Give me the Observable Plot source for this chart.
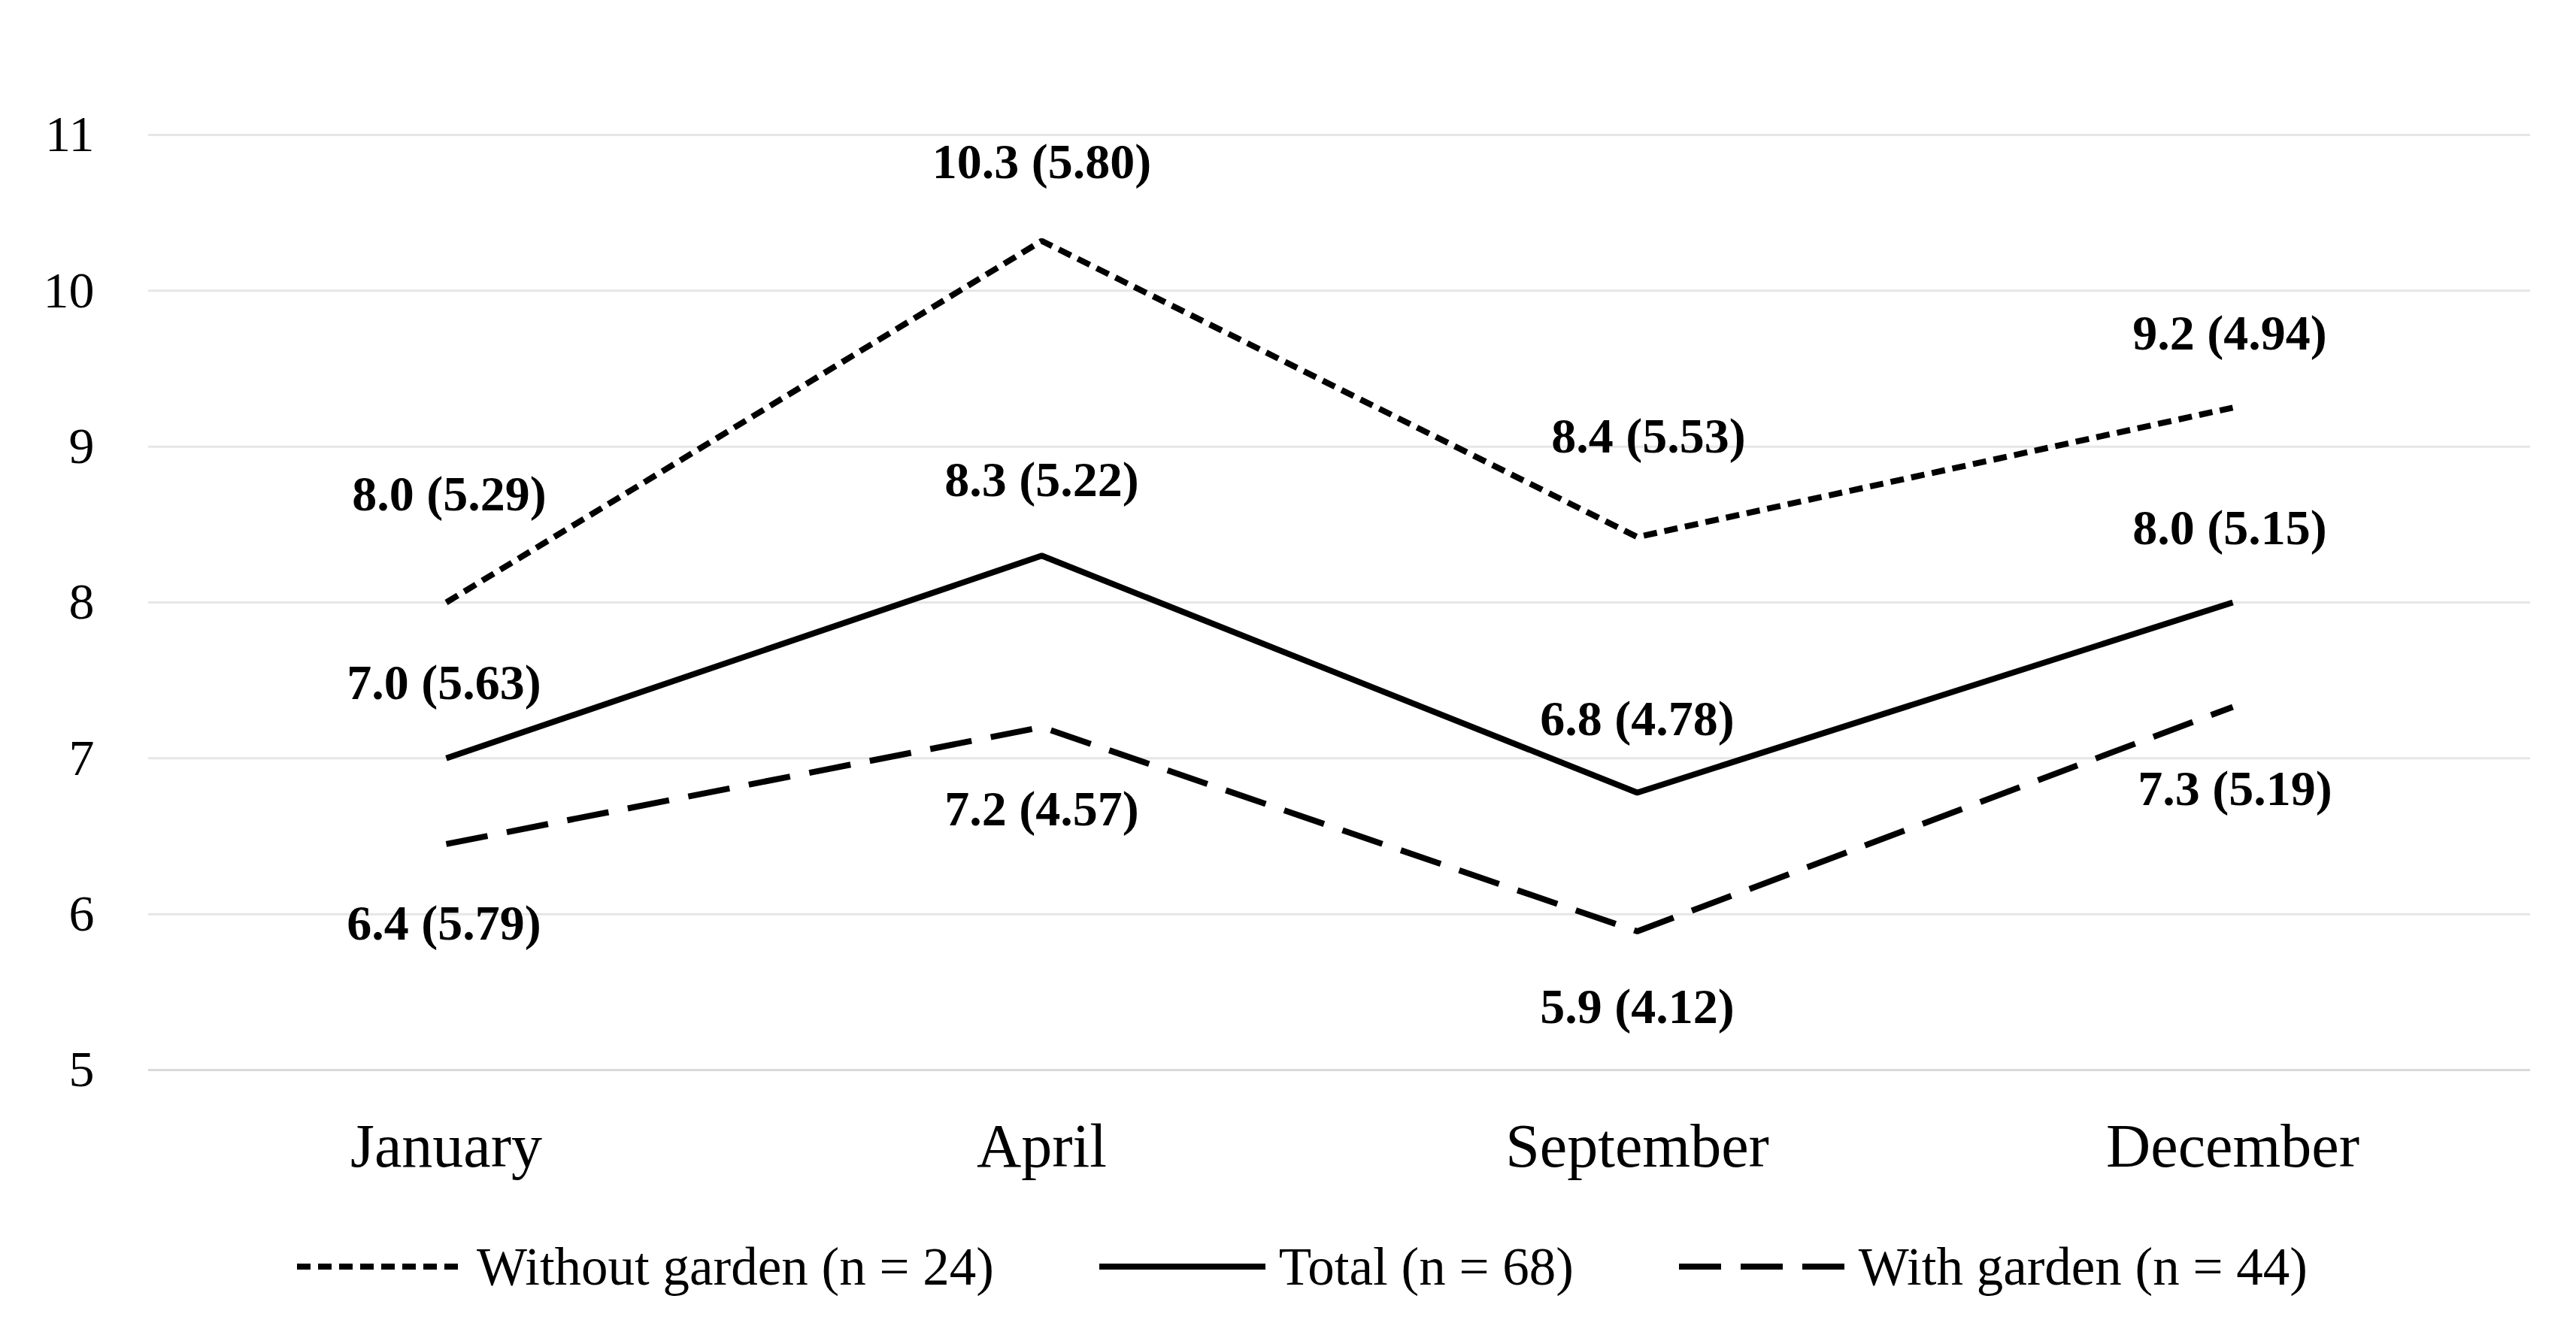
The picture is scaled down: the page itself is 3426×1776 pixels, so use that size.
<!DOCTYPE html>
<html>
<head>
<meta charset="utf-8">
<script src="https://cdn.jsdelivr.net/npm/d3@7"></script>
<script src="https://cdn.jsdelivr.net/npm/@observablehq/plot@0.6"></script>
<style>
  html, body { margin: 0; padding: 0; background: #fff; }
  body { width: 3426px; height: 1776px; overflow: hidden; font-family: "Liberation Serif", serif; }
  #legend { display: flex; align-items: center; padding-left: 395px; height: 150px; font-size: 71px; color: #000; }
  .item { display: flex; align-items: center; margin-right: 140px; }
  .item svg { margin-right: 18px; }
</style>
</head>
<body>
<div id="chart"></div>
<div id="legend"></div>
<script>
// ---- data ----
const months = ["January", "April", "September", "December"];
const seriesNames = ["Without garden (n = 24)", "Total (n = 68)", "With garden (n = 44)"];
const withoutGarden = [8.0, 10.32, 8.42, 9.25];
const total = [7.0, 8.3, 6.78, 8.0];
const withGarden = [6.45, 7.2, 5.89, 7.33];
const withoutLabels = ["8.0 (5.29)", "10.3 (5.80)", "8.4 (5.53)", "9.2 (4.94)"];
const totalLabels = ["7.0 (5.63)", "8.3 (5.22)", "6.8 (4.78)", "8.0 (5.15)"];
const withLabels = ["6.4 (5.79)", "7.2 (4.57)", "5.9 (4.12)", "7.3 (5.19)"];
const yTicks = [5, 6, 7, 8, 9, 10, 11];

// ---- layout (pixel offsets of value labels) ----
const labelDy = [
  [-144, -105, -134, -98],
  [-100, -100, -98, -99],
  [106, 110, 101, 109]
];
const labelDx = [
  [4, 0, 15, -4],
  [-3, 0, 0, -4],
  [-3, 0, 0, 3]
];
const dashes = ["18,10", null, "56,26"];

const valuesBySeries = [withoutGarden, total, withGarden];
const labelsBySeries = [withoutLabels, totalLabels, withLabels];

const rows = [];
valuesBySeries.forEach((vals, s) => vals.forEach((v, i) => rows.push({
  series: seriesNames[s], s, month: months[i], i, value: v, label: labelsBySeries[s][i]
})));

const marks = [
  Plot.ruleY(yTicks, {y: d => d, stroke: d => d === 5 ? "#d9d9d9" : "#e6e6e6", strokeWidth: 3})
];
seriesNames.forEach((name, s) => {
  marks.push(Plot.line(rows.filter(r => r.s === s), {
    x: "month", y: "value", stroke: "#000", strokeWidth: 8,
    strokeDasharray: dashes[s] || undefined, strokeLinejoin: "miter", strokeLinecap: "butt"
  }));
});
rows.forEach(r => {
  marks.push(Plot.text([r], {
    x: "month", y: "value", text: "label",
    dx: labelDx[r.s][r.i], dy: labelDy[r.s][r.i],
    fontWeight: "bold", fontSize: 66, fill: "#000",
    fontFamily: "Liberation Serif"
  }));
});
marks.push(Plot.axisY({ticks: yTicks, tickFormat: d3.format("d"), tickSize: 0, tickPadding: 72, fontSize: 68, fontFamily: "Liberation Serif", label: null}));
marks.push(Plot.axisX({tickSize: 0, tickPadding: 70, fontSize: 82, fontFamily: "Liberation Serif", label: null}));

const chart = Plot.plot({
  width: 3426,
  height: 1610,
  marginTop: 179,
  marginBottom: 187,
  marginLeft: 197,
  marginRight: 61,
  style: {fontFamily: "Liberation Serif", color: "#000", background: "#fff"},
  x: {type: "point", domain: months, padding: 0.5},
  y: {domain: [5, 11]},
  marks
});
document.getElementById("chart").appendChild(chart);

// ---- legend ----
const legend = document.getElementById("legend");
seriesNames.forEach((name, s) => {
  const item = document.createElement("div");
  item.className = "item";
  const ns = "http://www.w3.org/2000/svg";
  const svg = document.createElementNS(ns, "svg");
  svg.setAttribute("width", 221);
  svg.setAttribute("height", 20);
  const ln = document.createElementNS(ns, "line");
  ln.setAttribute("x1", 0); ln.setAttribute("x2", 221);
  ln.setAttribute("y1", 10); ln.setAttribute("y2", 10);
  ln.setAttribute("stroke", "#000"); ln.setAttribute("stroke-width", 8);
  if (dashes[s]) ln.setAttribute("stroke-dasharray", dashes[s]);
  svg.appendChild(ln);
  const span = document.createElement("span");
  span.textContent = name;
  item.appendChild(svg);
  item.appendChild(span);
  legend.appendChild(item);
});
</script>
</body>
</html>
